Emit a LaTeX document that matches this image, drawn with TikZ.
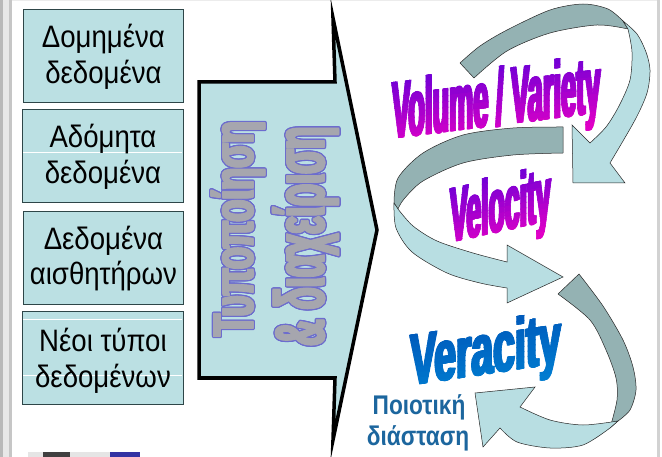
\documentclass[tikz,border=0pt]{standalone}
\usepackage{fontspec}
\setmainfont{Liberation Sans}
\newfontfamily\heavysans{Liberation Sans}[BoldFeatures={FakeBold=2}]
\usepackage{graphicx}
\usetikzlibrary{calc}

\definecolor{boxfill}{RGB}{187,224,227}
\definecolor{boxline}{RGB}{46,70,72}
\definecolor{ribbonfront}{RGB}{184,222,226}
\definecolor{ribbonback}{RGB}{148,178,179}
\definecolor{vtop}{RGB}{108,0,214}
\definecolor{vbot}{RGB}{224,0,198}
\definecolor{btop}{RGB}{0,88,186}
\definecolor{bbot}{RGB}{0,124,208}
\definecolor{qualblue}{RGB}{28,102,158}
\definecolor{wordgray}{RGB}{166,166,174}
\definecolor{wordedge}{RGB}{108,108,206}

% heavy word filled with a vertical colour gradient, set on a slanted baseline;
% the glyphs are laid several times side by side to thicken the stems
% #1 base-west point, #2 slant, #3 font size, #4 x-scale, #5 top colour, #6 bottom colour, #7 text, #8 name
\newcommand\gradword[8]{%
  \begin{scope}[shift={(#1)}, yslant=#2]
    \foreach \i in {0,...,13}{%
      \pgfmathtruncatemacro\pct{100-\i*100/13}%
      \begin{scope}
        \clip (-6,{(-0.80+0.072*\i)*#3-0.5}) rectangle (420,{(-0.80+0.072*(\i+1))*#3+0.5});
        \foreach \dx [count=\k] in {-0.9,-0.3,0.3,0.9}
          \node[anchor=base west, inner sep=0pt, transform shape, text=#5!\pct!#6, text depth=0pt,
                font=\fontsize{#3}{#3}\selectfont\heavysans\bfseries] (#8\i n\k) at (\dx,0)
                {\scalebox{#4}[1]{#7}};
      \end{scope}}
  \end{scope}}

% heavy outlined grey lettering running upwards inside the block arrow
% #1 base-west point, #2 font size, #3 x-scale, #4 text, #5 name
\newcommand\ribbonword[5]{%
  \foreach \dy [count=\k] in {-1,0,1}
    \foreach \ang in {0,30,...,330}
      \node[wordtext, text=wordedge, font=\fontsize{#2}{#2}\selectfont\heavysans\bfseries]
        (#5o\k n\ang) at ($(#1)+(0,\dy)+(\ang:1.3)$) {\scalebox{#3}[1]{#4}};
  \foreach \dy [count=\k] in {-1,-0.5,0,0.5,1}
    \node[wordtext, text=wordgray, font=\fontsize{#2}{#2}\selectfont\heavysans\bfseries]
      (#5f\k) at ($(#1)+(0,\dy)$) {\scalebox{#3}[1]{#4}};}

\begin{document}
\begin{tikzpicture}[x=1pt, y=-1pt,
  databox/.style={draw=boxline, line width=0.9pt, fill=boxfill, inner sep=0pt,
    minimum height=93pt, anchor=north west},
  boxtext/.style={anchor=base, inner sep=0pt, font=\fontsize{31}{36}\selectfont},
  wordtext/.style={rotate=90, anchor=base west, inner sep=0pt},
  back/.style={fill=ribbonback, draw=black!85, line width=0.5pt, line join=round},
  front/.style={fill=ribbonfront, draw=black!85, line width=0.5pt, line join=miter},
  qualtext/.style={anchor=base, inner sep=0pt, text=qualblue,
    font=\fontsize{27}{27}\selectfont\bfseries}]

\useasboundingbox (0,0) rectangle (662,457);
\fill[white] (0,0) rectangle (662,457);

% window frame
\fill[gray!55] (0,0) rectangle (3,457);
\fill[gray!18] (3,0) rectangle (9,457);
\fill[gray!45] (9,0) rectangle (12,457);
\fill[gray!35] (657,0) rectangle (660,457);
\fill[gray!15] (12,0) rectangle (657,1.5);
\fill[gray!20] (28,452) rectangle (43,457);
\fill[black!75] (43,452) rectangle (70,457);
\fill[gray!20] (70,452) rectangle (110,457);
\fill[blue!55!black!80!white] (110,452) rectangle (140,457);

% data sources
\node[databox, minimum width=160pt] (b1) at (23,9) {};
\node[databox, minimum width=161pt] (b2) at (22,109) {};
\node[databox, minimum width=160pt] (b3) at (23,211) {};
\node[databox, minimum width=161pt] (b4) at (22,311) {};
\draw[white, line width=0.6pt] (23,152) -- (182,152);
\draw[white, line width=0.6pt] (23,319) -- (182,319);
\draw[white, line width=0.6pt] (23,375) -- (182,375);

\node[boxtext] (t1a) at ($(b1.north)+(0,39)$) {\scalebox{0.89}[1]{Δομημένα}};
\node[boxtext] (t1b) at ($(b1.north)+(0,75)$) {\scalebox{0.89}[1]{δεδομένα}};
\node[boxtext] (t2a) at ($(b2.north)+(0,39)$) {\scalebox{0.89}[1]{Αδόμητα}};
\node[boxtext] (t2b) at ($(b2.north)+(0,75)$) {\scalebox{0.89}[1]{δεδομένα}};
\node[boxtext] (t3a) at ($(b3.north)+(0,39)$) {\scalebox{0.89}[1]{Δεδομένα}};
\node[boxtext] (t3b) at ($(b3.north)+(0,74)$) {\scalebox{0.89}[1]{αισθητήρων}};
\node[boxtext] (t4a) at ($(b4.north)+(0,41)$) {\scalebox{0.89}[1]{Νέοι τύποι}};
\node[boxtext] (t4b) at ($(b4.north)+(0,77)$) {\scalebox{0.89}[1]{δεδομένων}};

% block arrow
\draw[line width=3.5pt, fill=boxfill, line join=miter, miter limit=25]
  (199,82) -- (335,82) -- (333,18) -- (377,230) -- (333,440) -- (335,378)
  -- (199,378) -- cycle;
\ribbonword{253,336}{57}{0.63}{Τυποποίηση}{w1}
\ribbonword{324,346}{70}{0.52}{\& διαχείριση}{w2}

% upper curved arrow
\path[back] plot[smooth] coordinates {(460,63) (480,46) (507,30) (550,10) (583,4) (608,9) (623,21)}
  -- plot[smooth] coordinates {(628,29) (597,25) (550,33) (507,51) (474,78)} -- cycle;
\path[front] plot[smooth] coordinates {(623,21) (637,34) (646,52) (650,70) (647,93) (635,120) (610,163)}
  -- (625,183) -- (573,183) -- (572,125) -- (590,143)
  -- plot[smooth] coordinates {(590,143) (606,127) (619,106) (630,80) (632,52) (628,29)} -- cycle;

% middle curved arrow
\path[back] (563,127) -- (563,153)
  -- plot[smooth] coordinates {(563,153) (513,155) (463,163) (423,181) (404,199) (398,209)}
  -- plot[smooth] coordinates {(394,203) (398,178) (423,153) (463,135) (513,128) (563,127)} -- cycle;
\path[front] plot[smooth] coordinates {(394,203) (396,228) (412,252) (447,273) (480,283) (507,288)}
  -- (507,303) -- (563,277) -- (507,245) -- (507,262)
  -- plot[smooth] coordinates {(507,262) (473,253) (437,241) (413,226) (398,209)} -- cycle;

% lower curved arrow
\path[back] (558,294) -- (579,274)
  -- plot[smooth] coordinates {(579,274) (603,306) (623,340) (633,367) (636,390) (630,410) (618,421)}
  -- plot[smooth] coordinates {(610,428) (617,400) (616,378) (606,350) (590,320) (558,294)} -- cycle;
\path[front] plot[smooth] coordinates {(618,421) (583,425) (550,420) (520,407)}
  -- (535,387) -- (475,393) -- (483,447) -- (500,428)
  -- plot[smooth] coordinates {(500,428) (517,442) (550,448) (583,445) (610,428)} -- cycle;

% the three V words
\gradword{392,138}{0.125}{80}{0.34}{vtop}{vbot}{Volume / Variety}{vv}
\gradword{450,242}{0.22}{77}{0.345}{vtop}{vbot}{Velocity}{ve}
\gradword{410,385}{0.15}{72}{0.545}{btop}{bbot}{Veracity}{vr}

\node[qualtext] (q1) at (419,414) {\scalebox{0.84}[1]{Ποιοτική}};
\node[qualtext] (q2) at (418,445) {\scalebox{0.84}[1]{διάσταση}};
\end{tikzpicture}
\end{document}
